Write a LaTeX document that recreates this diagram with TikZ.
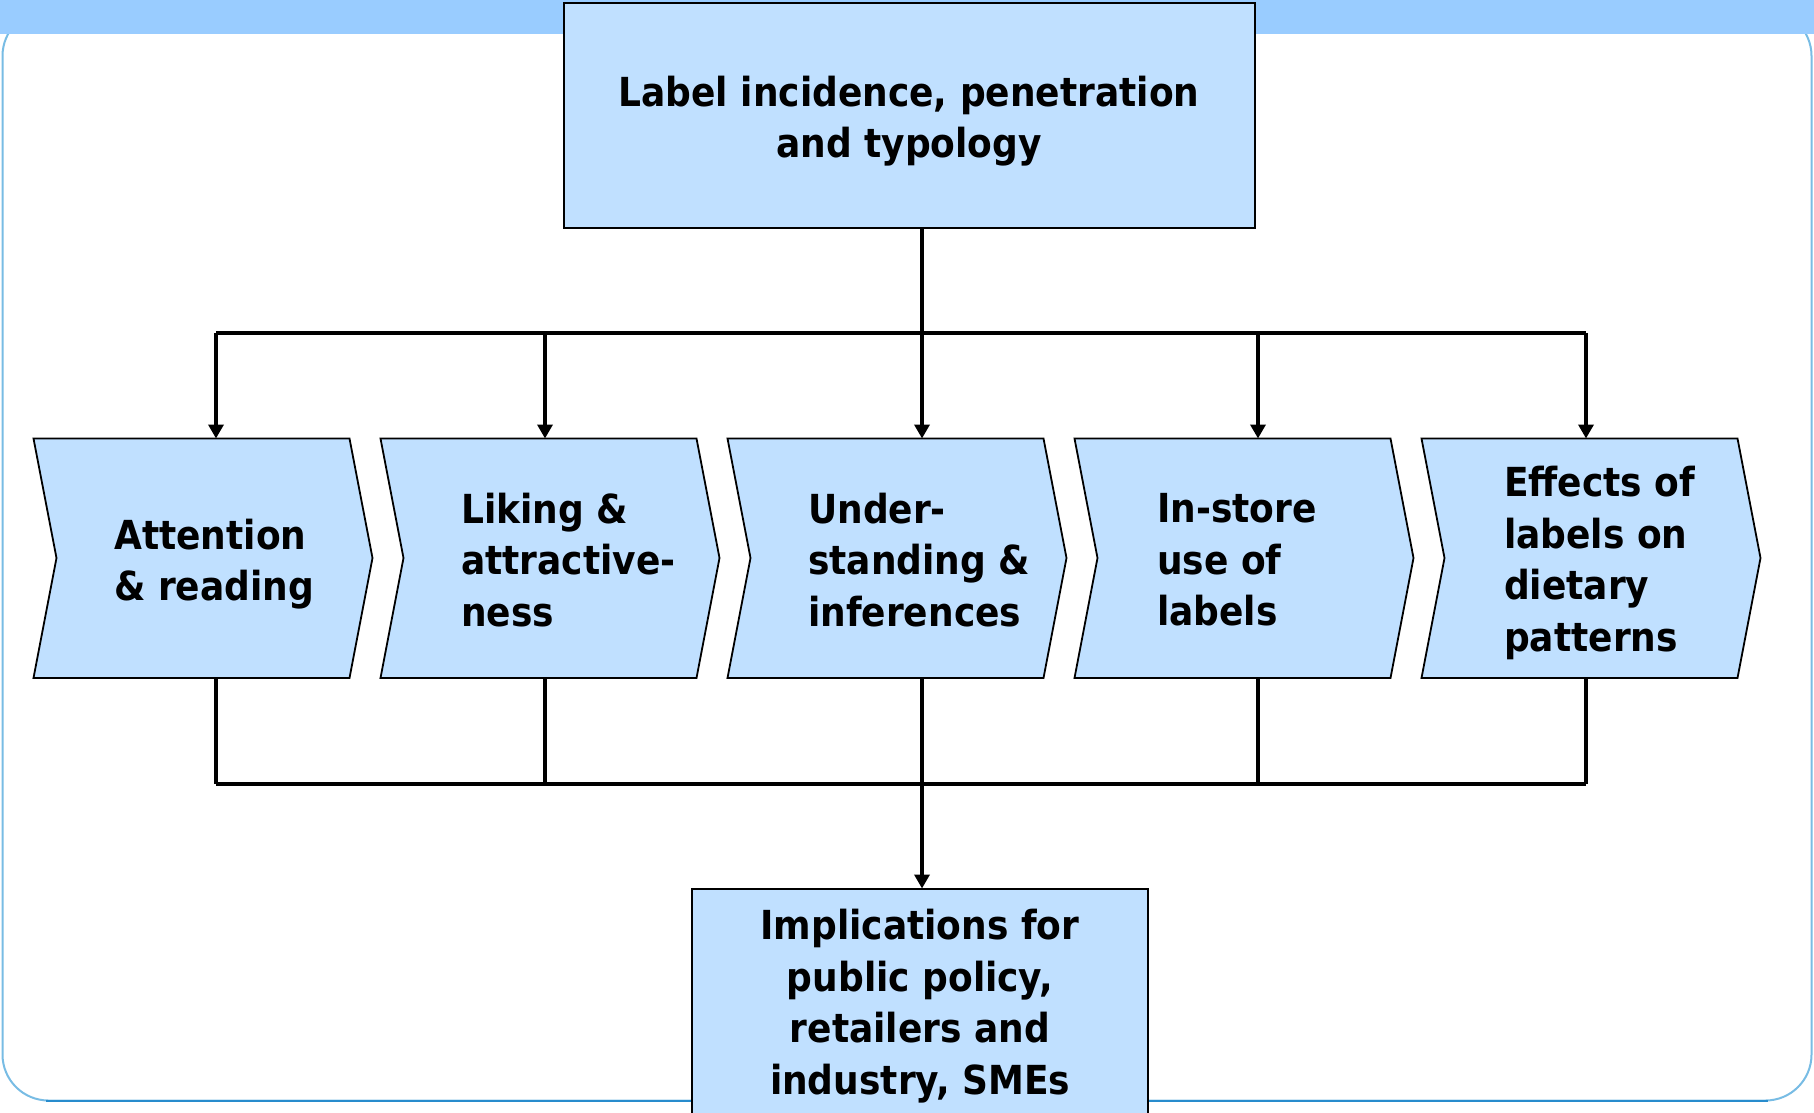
\documentclass[tikz,border=0pt]{standalone}
\usepackage{fontspec}
\newfontfamily\boxfont{DejaVu Sans Condensed}
\usetikzlibrary{arrows.meta}
\definecolor{barblue}{RGB}{153,204,255}
\definecolor{boxblue}{RGB}{192,224,255}
\definecolor{framesoft}{RGB}{120,188,228}
\definecolor{framedeep}{RGB}{40,140,205}
\tikzset{
  flatbox/.style={draw=black, line width=2pt, fill=boxblue},
  chevron/.style={draw=black, line width=1.8pt, fill=boxblue, line join=miter},
  conn/.style={draw=black, line width=3.8pt},
  arrowconn/.style={conn, -{Triangle[width=15pt,length=14pt]}},
  boxtext/.style={font=\boxfont\bfseries\fontsize{40}{51.5}\selectfont, text=black, inner sep=0pt},
}
\begin{document}
\begin{tikzpicture}[x=1pt, y=-1pt]
\useasboundingbox (0,0) rectangle (1814,1113);
\clip (0,0) rectangle (1814,1113);

% page frame and header band
\draw[framesoft, line width=2pt, rounded corners=46pt] (2.5,10) rectangle (1811.5,1100.5);
\draw[framedeep, line width=2pt] (46,1100.5) -- (1768,1100.5);
\fill[barblue] (0,0) rectangle (1814,34);

% top box
\draw[flatbox] (563.5,3.5) rectangle (1255,228);
\node[boxtext, align=center] (topbox) at (909,121) {Label incidence, penetration\\and typology};
\coordinate (topS) at (909,228);

% bottom box
\draw[flatbox] (692,888.5) rectangle (1148,1130);
\coordinate (botN) at (920,888.5);
\node[boxtext, align=center, anchor=north] (botbox) at (920,909) {Implications for\\public policy,\\retailers and\\industry, SMEs};

% chevrons: left edge x, drawn with a notch on the left and a point on the right
\foreach \x/\n in {33.5/1, 380.5/2, 727.5/3, 1074.5/4, 1421.5/5}{
  \draw[chevron] (\x,438.5) -- (\x+316,438.5) -- (\x+339,558) -- (\x+316,678)
     -- (\x,678) -- (\x+23,558) -- cycle;
}
\node[boxtext, align=left, anchor=west] (ch1) at (114,564) {Attention\\\& reading};
\node[boxtext, align=left, anchor=west] (ch2) at (461,560) {Liking \&\\attractive-\\ness};
\node[boxtext, align=left, anchor=west] (ch3) at (808,560) {Under-\\standing \&\\inferences};
\node[boxtext, align=left, anchor=west] (ch4) at (1157,560) {In-store\\use of\\labels};
\node[boxtext, align=left, anchor=west] (ch5) at (1504,563) {Effects of\\labels on\\dietary\\patterns};

% connector points on the chevrons and on the two rails
\foreach \i/\x in {1/216, 2/545, 3/922, 4/1258, 5/1586}{
  \coordinate (up\i) at (\x,333);
  \coordinate (in\i) at (\x,438.5);
  \coordinate (out\i) at (\x,678);
  \coordinate (dn\i) at (\x,784);
}

% distribution from the top box
\draw[conn] (up3 |- topS) -- (up3);
\draw[conn] (up1) -- (up5);
\foreach \i in {1,...,5}{
  \draw[arrowconn] (up\i) -- (in\i);
}

% collection towards the bottom box
\foreach \i in {1,...,5}{
  \draw[conn] (out\i) -- (dn\i);
}
\draw[conn] (dn1) -- (dn5);
\draw[arrowconn] (dn3) -- (dn3 |- botN);
\end{tikzpicture}
\end{document}
